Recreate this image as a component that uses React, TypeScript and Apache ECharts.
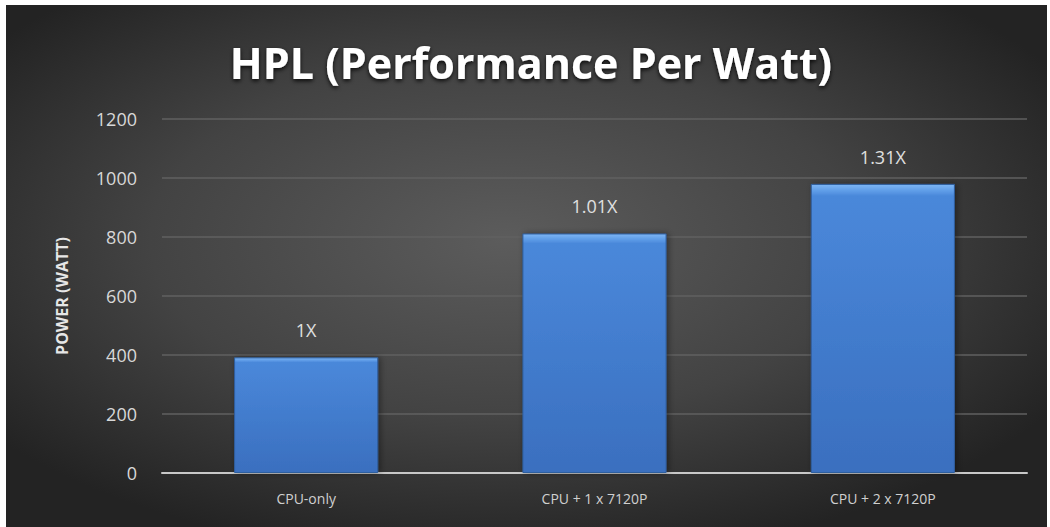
import React, { useEffect, useRef } from "react";
import * as echarts from "echarts";

const categories = ["CPU-only", "CPU + 1 x 7120P", "CPU + 2 x 7120P"];
const powerValues = [392, 812, 980];
const ratioLabels = ["1X", "1.01X", "1.31X"];
const yTicks = { min: 0, max: 1200, interval: 200 };

export default function App() {
  const ref = useRef<HTMLDivElement>(null);
  useEffect(() => {
    if (!ref.current) return;
    const chart = echarts.init(ref.current, undefined, { renderer: "svg" });
    chart.setOption({
      animation: false,
      backgroundColor: "#ffffff",
      graphic: [
        {
          type: "rect",
          z: -10,
          shape: { x: 6, y: 5, width: 1041, height: 522 },
          style: {
            fill: new echarts.graphic.RadialGradient(0.48, 0.45, 0.62, [
              { offset: 0, color: "#5c5c5c" },
              { offset: 0.55, color: "#434343" },
              { offset: 1, color: "#232323" },
            ]),
          },
        },
        {
          type: "text",
          x: 531,
          y: 62,
          style: {
            text: "HPL (Performance Per Watt)",
            fill: "#ffffff",
            font: "bold 43px 'Open Sans', sans-serif",
            align: "center",
            verticalAlign: "middle",
            textShadowColor: "rgba(0,0,0,0.85)",
            textShadowBlur: 4,
            textShadowOffsetY: 2,
          },
        },
      ],
      grid: { left: 162, right: 23, top: 119, bottom: 54 },
      xAxis: {
        type: "category",
        data: categories,
        axisTick: { show: false },
        axisLine: { lineStyle: { color: "#c8c8c8", width: 2 } },
        axisLabel: {
          color: "#d0d0d0",
          fontSize: 14,
          fontFamily: "'Open Sans', sans-serif",
          margin: 18,
        },
      },
      yAxis: {
        type: "value",
        min: yTicks.min,
        max: yTicks.max,
        interval: yTicks.interval,
        name: "POWER (WATT)",
        nameLocation: "middle",
        nameGap: 92,
        nameTextStyle: {
          color: "#e6e6e6",
          fontSize: 16,
          fontWeight: "bold",
          fontFamily: "'Open Sans', sans-serif",
        },
        axisLine: { show: false },
        axisTick: { show: false },
        axisLabel: {
          color: "#d8d8d8",
          fontSize: 18,
          fontFamily: "'Open Sans', sans-serif",
          margin: 25,
          formatter: (v: number) => String(v),
        },
        splitLine: { lineStyle: { color: "#606060", width: 1.5 } },
      },
      series: [
        {
          type: "bar",
          data: powerValues,
          barWidth: "50%",
          itemStyle: {
            color: new echarts.graphic.LinearGradient(0, 0, 0, 1, [
              { offset: 0, color: "#7db6f4" },
              { offset: 0.025, color: "#5c9ae6" },
              { offset: 0.04, color: "#4a88da" },
              { offset: 1, color: "#3a6fbf" },
            ]),
            borderColor: "#2f5e9e",
            borderWidth: 1,
            shadowColor: "rgba(0,0,0,0.4)",
            shadowBlur: 6,
            shadowOffsetX: 2,
          },
          label: {
            show: true,
            position: "top",
            distance: 18,
            color: "#e0e0e0",
            fontSize: 18,
            fontFamily: "'Open Sans', sans-serif",
            formatter: (p: any) => ratioLabels[p.dataIndex],
          },
        },
      ],
    });
    return () => chart.dispose();
  }, []);
  return (
    <div
      ref={ref}
      style={{ position: "fixed", left: 0, top: 0, width: 1050, height: 527 }}
    />
  );
}
